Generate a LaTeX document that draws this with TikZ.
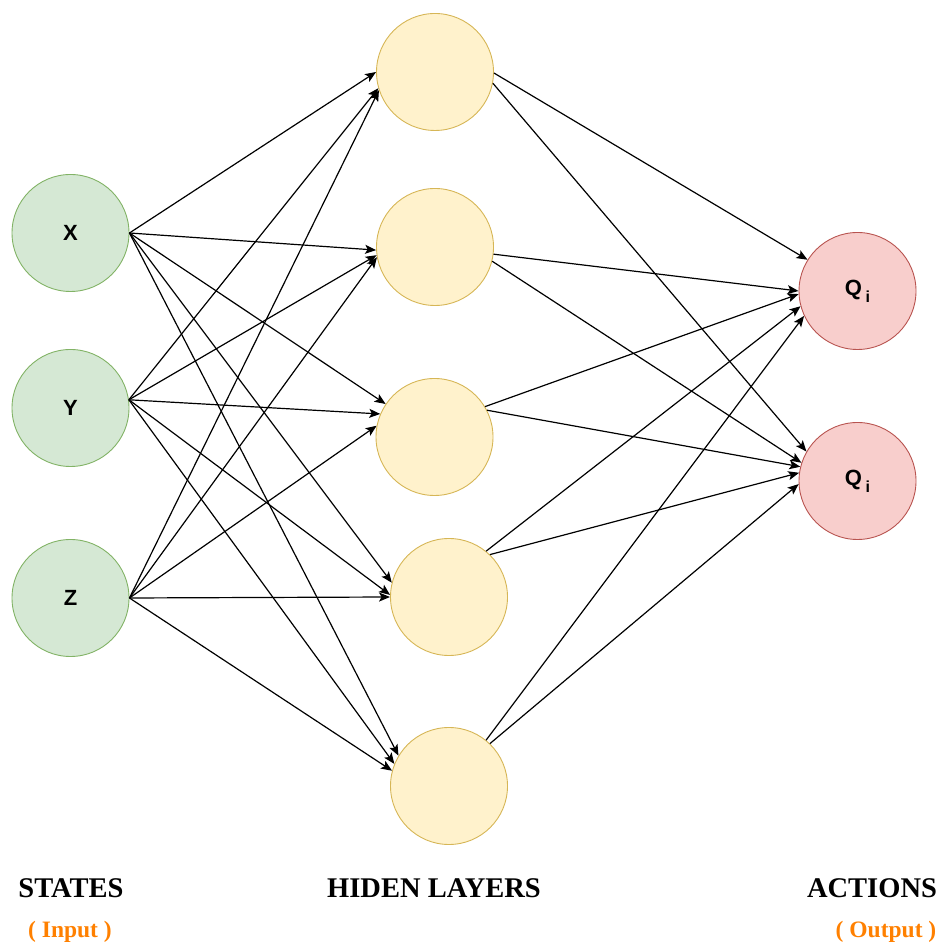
\documentclass[tikz,border=0pt]{standalone}
\usepackage{fontspec}
\setmainfont{Liberation Serif}
\setsansfont{Liberation Sans}
\usetikzlibrary{arrows.meta}
\definecolor{infill}{HTML}{D5E8D4}
\definecolor{indraw}{HTML}{82B366}
\definecolor{hidfill}{HTML}{FFF2CC}
\definecolor{hiddraw}{HTML}{D6B656}
\definecolor{outfill}{HTML}{F8CECC}
\definecolor{outdraw}{HTML}{B85450}
\definecolor{noteorange}{HTML}{FF8000}

\begin{document}
\begin{tikzpicture}[x=1pt,y=1pt,
  neuron/.style={circle, line width=0.9pt, minimum size=117pt, inner sep=0pt,
    font=\sffamily\bfseries\fontsize{22}{22}\selectfont},
  innode/.style={neuron, draw=indraw, fill=infill},
  hidnode/.style={neuron, draw=hiddraw, fill=hidfill},
  outnode/.style={neuron, draw=outdraw, fill=outfill},
  link/.style={line width=1.2pt, -{Stealth[length=11pt,width=9pt,inset=2.5pt]}},
  caption/.style={anchor=base, font=\bfseries\fontsize{28.5}{28.5}\selectfont},
  note/.style={anchor=base, text=noteorange, font=\bfseries\fontsize{23.5}{23.5}\selectfont}]
\useasboundingbox (0,0) rectangle (941,944);
% input layer
\node[innode] (X) at (70.5,711) {X};
\node[innode] (Y) at (70.5,536) {Y};
\node[innode] (Z) at (70.5,346) {Z};
% hidden layer
\node[hidnode] (H1) at (435,872) {};
\node[hidnode] (H2) at (435,697) {};
\node[hidnode] (H3) at (434.5,507) {};
\node[hidnode] (H4) at (449,347) {};
\node[hidnode] (H5) at (449,158) {};
% output layer
\node[outnode] (Q1) at (857.5,653) {Q\,\raisebox{-7pt}{\fontsize{16}{16}\selectfont i}};
\node[outnode] (Q2) at (857.5,463) {Q\,\raisebox{-7pt}{\fontsize{16}{16}\selectfont i}};

% input -> hidden
\draw[link] (X.east) -- (H1.180);
\draw[link] (X.east) -- (H2.183);
\draw[link] (X.east) -- (H3.146);
\draw[link] (X.east) -- (H4.166);
\draw[link] (X.east) -- (H5.149);
\draw[link] (Y.8) -- (H1.196);
\draw[link] (Y.8) -- (H2.188);
\draw[link] (Y.8) -- (H3.157);
\draw[link] (Y.8) -- (H4.178);
\draw[link] (Y.8) -- (H5.158);
\draw[link] (Z.east) -- (H1.198);
\draw[link] (Z.east) -- (H2.190);
\draw[link] (Z.east) -- (H3.169);
\draw[link] (Z.east) -- (H4.180);
\draw[link] (Z.east) -- (H5.165);

% hidden -> output
\draw[link] (H1.-1) -- (Q1.148);
\draw[link] (H1.-11) -- (Q2.150);
\draw[link] (H2.-7) -- (Q1.180);
\draw[link] (H2.-14) -- (Q2.162);
\draw[link] (H3.31) -- (Q1.183);
\draw[link] (H3.27) -- (Q2.166);
\draw[link] (H4.51) -- (Q1.195);
\draw[link] (H4.46) -- (Q2.172);
\draw[link] (H5.51) -- (Q1.205);
\draw[link] (H5.46) -- (Q2.183);

% captions
\node[caption] (states) at (71,46) {STATES};
\node[note] (input) at (70,6) {( Input )};
\node[caption] (hidden) at (434,46.5) {HIDEN LAYERS};
\node[caption] (actions) at (872,46) {ACTIONS};
\node[note] (output) at (886,6) {( Output )};
\end{tikzpicture}
\end{document}
